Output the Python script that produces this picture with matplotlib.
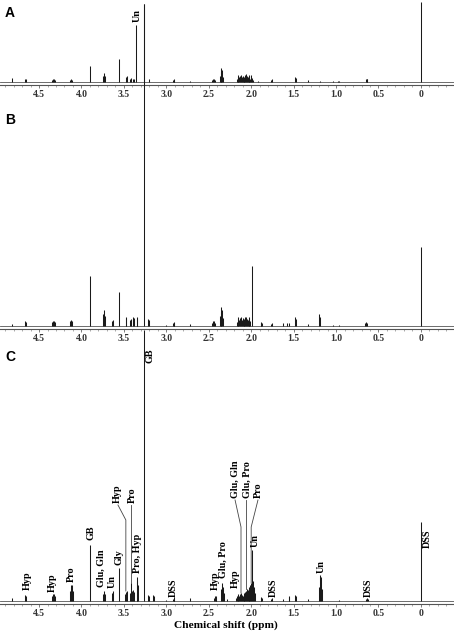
import matplotlib
matplotlib.use('Agg')
import matplotlib.pyplot as plt
from matplotlib.ticker import MultipleLocator

# peak lists (ppm, height above baseline)
a_ppm = [4.82, 4.66, 4.65, 4.345, 4.335, 4.325, 4.315, 4.13, 4.12, 4.11, 3.895,
         3.745, 3.735, 3.725, 3.555, 3.475, 3.465, 3.43, 3.42, 3.395, 3.385, 3.36,
         3.26, 3.20, 2.925, 2.915, 2.905, 2.72, 2.46, 2.45, 2.44, 2.43,
         2.37, 2.36, 2.35, 2.34, 2.33,
         2.17, 2.16, 2.15, 2.14, 2.13, 2.12, 2.11, 2.10, 2.09, 2.08, 2.07, 2.06,
         2.05, 2.04, 2.03, 2.02, 2.01, 2.00, 1.99, 1.98,
         1.92, 1.77, 1.76, 1.485, 1.475, 1.33, 1.19, 1.04, 0.98, 0.97,
         0.65, 0.64, 0.63, 0.0]
a_int = [4, 3, 3, 2, 3, 3, 2, 2, 3, 2, 16,
         6, 9, 6, 23, 5, 6, 3, 4, 3, 3, 57,
         78, 3, 2, 3, 2, 1.5, 2, 3, 3, 2,
         6, 14, 10, 12, 5,
         3, 5, 7, 5, 6, 7, 5, 6, 4, 5, 7, 8,
         6, 5, 7, 6, 3, 7, 4, 2,
         1, 2, 3, 5, 4, 2.5, 1.5, 1, 1.5, 1.5,
         3, 3.5, 3, 80]

b_ppm = [4.82, 4.665, 4.655, 4.345, 4.335, 4.325, 4.315, 4.13, 4.12, 4.11, 3.895,
         3.745, 3.735, 3.725, 3.64, 3.63, 3.555, 3.48, 3.47, 3.43, 3.42, 3.395, 3.385,
         3.35, 3.34, 3.26, 3.215, 3.205, 3.0, 2.925, 2.915, 2.905, 2.72,
         2.46, 2.45, 2.44, 2.43, 2.37, 2.36, 2.35, 2.34, 2.33,
         2.17, 2.16, 2.15, 2.14, 2.13, 2.12, 2.11, 2.10, 2.09, 2.08, 2.07, 2.06,
         2.05, 2.04, 2.03, 2.02, 2.01, 1.995,
         1.89, 1.88, 1.87, 1.77, 1.76, 1.63, 1.58, 1.55, 1.485, 1.475, 1.33,
         1.195, 1.185, 1.04, 0.97, 0.655, 0.645, 0.635, 0.0]
b_int = [2, 5, 4, 4, 5, 5, 4, 5, 6, 5, 50,
         12, 16, 10, 5, 6, 34, 8, 9, 6, 7.5, 9, 8,
         9, 8, 322, 7, 6, 1.5, 3, 4.5, 3, 2,
         3, 5, 5, 3, 10, 19, 14, 16, 8,
         4, 7, 9, 6, 8, 9, 6, 8, 5, 7, 9, 9,
         7, 6, 9, 8, 5, 60,
         3, 4, 3, 2, 3, 3, 3, 3, 9, 7, 2,
         12, 9, 1.5, 1.5, 3, 4, 3, 79]

c_ppm = [4.82, 4.665, 4.655, 4.345, 4.335, 4.325, 4.315, 4.13, 4.12, 4.11, 4.10,
         3.895, 3.745, 3.735, 3.725, 3.64, 3.63, 3.555, 3.49, 3.475, 3.465,
         3.43, 3.42, 3.41, 3.395, 3.385, 3.35, 3.34, 3.33, 3.26,
         3.215, 3.205, 3.16, 3.15, 3.0, 2.925, 2.915, 2.905, 2.72,
         2.44, 2.43, 2.42, 2.41, 2.35, 2.34, 2.33, 2.32, 2.28,
         2.18, 2.17, 2.16, 2.15, 2.14, 2.13, 2.12, 2.11, 2.10, 2.09, 2.08, 2.07,
         2.06, 2.05, 2.04, 2.03, 2.02, 2.01, 2.00, 1.985, 1.975, 1.965, 1.955,
         1.89, 1.88, 1.87, 1.77, 1.76, 1.63, 1.56, 1.55, 1.485, 1.475, 1.33,
         1.195, 1.185, 1.175, 1.165, 0.97, 0.645, 0.635, 0.625, 0.0]
c_int = [3, 6, 5, 5, 7, 7, 5, 10, 16, 16, 10,
         56, 7, 10, 7, 8, 10, 33, 7, 9, 10,
         8, 18, 10, 11, 9, 20, 24, 16, 271,
         6, 5, 6, 5, 1.5, 2, 4, 2, 3,
         3, 5, 5, 3, 12, 18, 14, 8, 2,
         3, 5, 7, 6, 5, 7, 8, 6, 5, 6, 8, 9,
         10, 12, 11, 13, 14, 16, 18, 51, 20, 14, 8,
         3, 4, 3, 2, 3, 2, 4, 5, 6.5, 5, 2,
         14, 26, 24, 12, 1.5, 2, 3, 2, 79]

c_names = ['Hyp', 'Hyp', 'Pro', 'GB', 'Glu, Gln', 'Un', 'Gly', 'Hyp', 'Pro',
           'Pro, Hyp', 'GB', 'DSS', 'Hyp', 'Glu, Pro', 'Hyp', 'Glu, Gln',
           'Glu, Pro', 'Pro', 'Un', 'DSS', 'Un', 'DSS', 'DSS']
c_name_ppm = [4.64, 4.34, 4.12, 3.89, 3.77, 3.64, 3.56, 3.58, 3.40, 3.345, 3.19,
              2.92, 2.42, 2.33, 2.19, 2.19, 2.05, 1.92, 1.95, 1.74, 1.17, 0.62, -0.07]
c_name_y = [11, 9, 19, 61, 14, 13, 36, 98, 98, 28, 238,
            4, 11, 23, 13, 103, 103, 103, 54, 4, 28, 4, 53]

tick_pos = [4.5, 4.0, 3.5, 3.0, 2.5, 2.0, 1.5, 1.0, 0.5, 0.0]
tick_lab = ['4.5', '4.0', '3.5', '3.0', '2.5', '2.0', '1.5', '1.0', '0.5', '0']

serif = 'Liberation Serif'
sans = 'Liberation Sans'
W, H = 454, 632


def panel(top, bottom, ppm, inten):
    ax = fig.add_axes([0, 1 - bottom / H, 1, (bottom - top) / H])
    ax.patch.set_alpha(0)
    ax.axhline(0, color='#555555', lw=0.6)
    sticks = ax.vlines(ppm, 0, inten, color='#1a1a1a', lw=0.75)
    sticks.set_clip_on(False)
    ax.set_xlim(4.96, -0.39)
    ax.set_ylim(-3, bottom - top - 3)
    for s in ['top', 'left', 'right']:
        ax.spines[s].set_visible(False)
    ax.spines['bottom'].set_color('#555555')
    ax.spines['bottom'].set_linewidth(0.8)
    ax.set_yticks([])
    ax.set_xticks(tick_pos)
    ax.set_xticklabels(tick_lab, fontfamily=serif, fontweight='bold',
                       fontsize=7, color='#333333')
    ax.xaxis.set_minor_locator(MultipleLocator(0.1))
    ax.tick_params(axis='x', which='major', length=2.5, width=0.6, color='#666666', pad=0.8)
    ax.tick_params(axis='x', which='minor', length=1.5, width=0.5, color='#888888')
    return ax


fig = plt.figure(figsize=(W / 100, H / 100), dpi=100)

ax_a = panel(0, 85, a_ppm, a_int)
ax_a.text(3.345, 60, 'Un', rotation=90, ha='center', va='bottom',
          fontfamily=serif, fontweight='bold', fontsize=7.3)

ax_b = panel(100, 329, b_ppm, b_int)

ax_c = panel(345, 604, c_ppm, c_int)
for name, x, y in zip(c_names, c_name_ppm, c_name_y):
    ax_c.text(x, y, name, rotation=90, ha='center', va='bottom',
              fontfamily=serif, fontweight='bold', fontsize=7.3)

leaders = [([3.57, 3.477, 3.477], [96, 81, 10]),
           ([3.416, 3.416], [96, 18]),
           ([2.19, 2.12, 2.12], [101, 74, 8]),
           ([2.06, 2.06], [101, 12]),
           ([1.92, 2.0, 2.0], [101, 74, 18])]
for xs, ys in leaders:
    ax_c.plot(xs, ys, color='#444444', lw=0.6)

for lab, y in [('A', 13), ('B', 120), ('C', 357)]:
    fig.text(10 / W, 1 - y / H, lab, ha='center', va='center',
             fontfamily=sans, fontweight='bold', fontsize=10)

fig.text(226 / W, 1 - 625 / H, 'Chemical shift (ppm)', ha='center', va='center',
         fontfamily=serif, fontweight='bold', fontsize=8.2)

fig.savefig('out.png', dpi=100)
